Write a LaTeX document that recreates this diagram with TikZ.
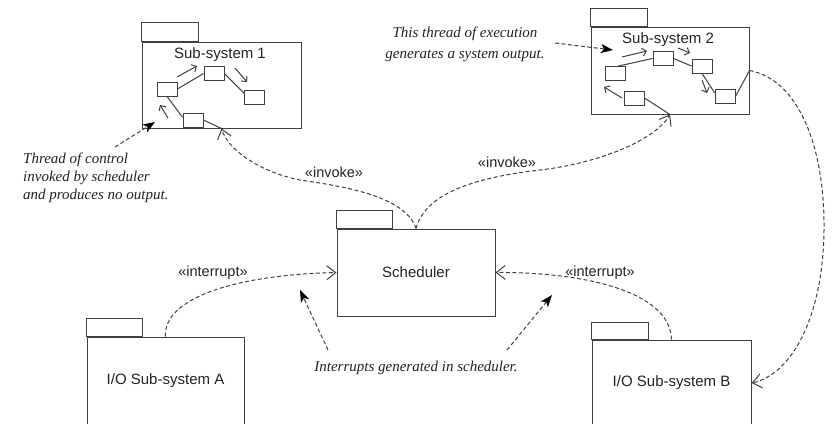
\documentclass[tikz,border=0pt]{standalone}
\usepackage{fontspec}
\setmainfont{Liberation Serif}
\setsansfont{Liberation Sans}
\usetikzlibrary{arrows.meta}
\definecolor{ink}{HTML}{404040}
\definecolor{txt}{HTML}{222222}
\begin{document}
\begin{tikzpicture}[x=1pt,y=-1pt,
  pkg/.style={draw=ink, line width=1pt, rectangle, inner sep=0pt, font=\sffamily\fontsize{15}{18}\selectfont, text=txt},
  tabbox/.style={draw=ink, line width=1pt},
  mini/.style={draw=ink, line width=0.9pt, rectangle, minimum width=20pt, minimum height=14pt, inner sep=0pt},
  link/.style={draw=ink, line width=1pt},
  flow/.style={draw=ink, line width=1pt, -{Straight Barb[length=4pt,width=8pt]}},
  dep/.style={draw=ink, line width=1pt, dash pattern=on 4pt off 2.5pt, -{Straight Barb[length=9pt,width=14pt]}},
  note/.style={draw=ink, line width=1pt, dash pattern=on 4pt off 2.5pt, -{Stealth[length=12pt,width=9pt,inset=3pt,color=black]}},
  lbl/.style={font=\sffamily\fontsize{14.5}{17}\selectfont, text=txt, inner sep=0pt},
  cmt/.style={font=\itshape\fontsize{15}{18}\selectfont, text=txt, inner sep=0pt},
]
\useasboundingbox (0,0) rectangle (832,423);
\clip (0,0) rectangle (832,423);

% packages
\node[pkg, minimum width=159pt, minimum height=86pt] (ss1) at (221.5,85) {};
\draw[tabbox] (ss1.north west) rectangle ++(57,-19);
\node[lbl, font=\sffamily\fontsize{15}{18}\selectfont] (ss1t) at (220,55) {Sub-system 1};

\node[pkg, minimum width=158pt, minimum height=87pt] (ss2) at (670,70.5) {};
\draw[tabbox] (ss2.north west) rectangle ++(57,-18);
\node[lbl, font=\sffamily\fontsize{15}{18}\selectfont] (ss2t) at (668,40) {Sub-system 2};

\node[pkg, minimum width=158pt, minimum height=87pt] (sch) at (416,272.5) {Scheduler};
\draw[tabbox] (sch.north west) rectangle ++(56,-18);

\node[pkg, minimum width=157pt, minimum height=88pt] (ioa) at (165.5,381) {I/O Sub-system A};
\draw[tabbox] (ioa.north west) rectangle ++(56,-18);

\node[pkg, minimum width=159pt, minimum height=86pt] (iob) at (671.5,383) {I/O Sub-system B};
\draw[tabbox] (iob.north west) rectangle ++(57,-17);

% threads inside Sub-system 1
\node[mini] (a1) at (167,89) {};
\node[mini] (a2) at (214,73.5) {};
\node[mini] (a3) at (254.5,97) {};
\node[mini] (a4) at (193,120) {};
\draw[link] (a1.east) -- (a2.west);
\draw[link] (a2.east) -- (a3.160);
\draw[link] (a1.south) -- (a4.165);
\draw[link] (a4.east) -- (ss1.south);
\draw[flow] (177,77) -- (197,66);
\draw[flow] (235,68) -- (247,82);
\draw[flow] (168,118) -- (160,105);

% threads inside Sub-system 2
\node[mini] (b1) at (615.5,73.5) {};
\node[mini] (b2) at (663,58.5) {};
\node[mini] (b3) at (702,66) {};
\node[mini] (b4) at (725,96.5) {};
\node[mini] (b5) at (634,98) {};
\draw[link] (b1.70) -- (b2.west);
\draw[link] (b2.east) -- (b3.west);
\draw[link] (b3.south) -- (b4.160);
\draw[link] (b4.east) -- (ss2.east);
\draw[link] (b5.east) -- (ss2.south);
\draw[flow] (622,57) -- (647,51);
\draw[flow] (678,48) -- (690,53);
\draw[flow] (702,80) -- (707,93);
\draw[flow] (622,98) -- (604,87);

% dependencies
\draw[dep] (sch.north) .. controls (405,195) and (340,186) .. (300,180)
  .. controls (260,172) and (228,150) .. (ss1.south);
\draw[dep] (sch.north) .. controls (425,195) and (470,178) .. (540,170)
  .. controls (600,163) and (655,140) .. (ss2.south);
\draw[dep] (ss2.east) .. controls (800,80) and (825,150) .. (824,230)
  .. controls (823,320) and (790,375) .. (iob.east);
\draw[dep] (ioa.north) .. controls (163,300) and (230,275) .. (sch.west);
\draw[dep] (iob.north) .. controls (670,290) and (580,272) .. (sch.east);

\node[lbl] (l1) at (334,172) {«invoke»};
\node[lbl] (l2) at (507,162) {«invoke»};
\node[lbl] (l3) at (213,273) {«interrupt»};
\node[lbl] (l4) at (600,273) {«interrupt»};

% comments
\node[cmt, align=center] (c1) at (465,44) {This thread of execution\\[3pt]generates a system output.};
\node[cmt, align=left, anchor=north west] (c2) at (23,153) {Thread of control\\invoked by scheduler\\and produces no output.};
\node[cmt] (c3) at (416,368) {Interrupts generated in scheduler.};

\coordinate (p1) at (555,43);
\coordinate (q1) at (613,50);
\coordinate (p2) at (115,147);
\coordinate (q2) at (155,122);
\coordinate (p3) at (328,350);
\coordinate (q3) at (300,290);
\coordinate (p4) at (507,350);
\coordinate (q4) at (552,295);
\draw[note] (p1) -- (q1);
\draw[note] (p2) -- (q2);
\draw[note] (p3) -- (q3);
\draw[note] (p4) -- (q4);
\end{tikzpicture}
\end{document}
